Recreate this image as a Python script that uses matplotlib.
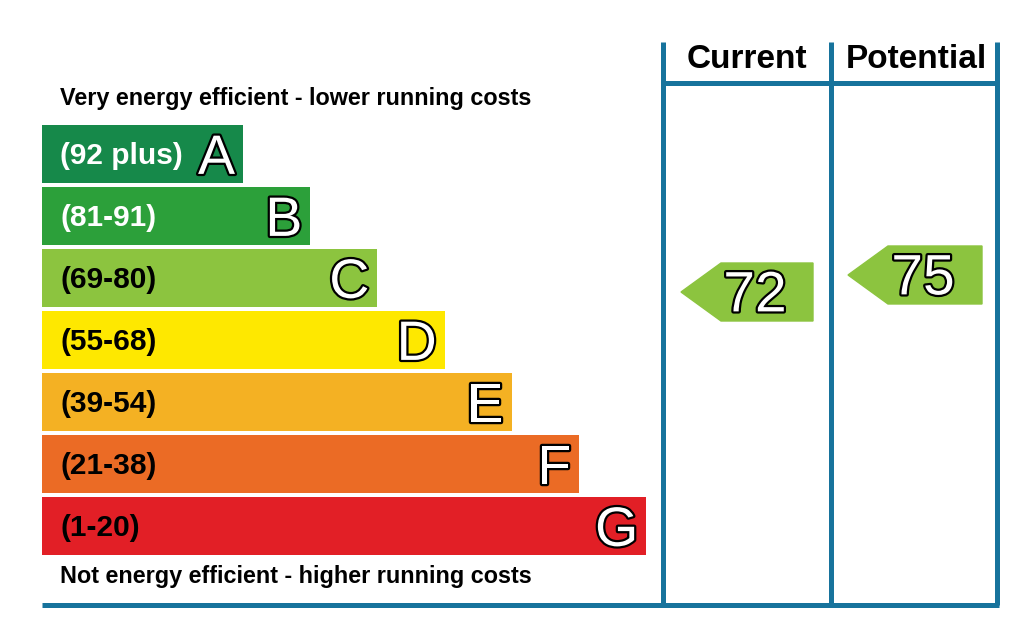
import matplotlib
matplotlib.use("Agg")
import matplotlib.pyplot as plt
from matplotlib.patches import Polygon
import matplotlib.patheffects as pe

# ---- data ----
bands = ["A", "B", "C", "D", "E", "F", "G"]
ranges = ["(92 plus)", "(81-91)", "(69-80)", "(55-68)", "(39-54)", "(21-38)", "(1-20)"]
band_colors = ["#16894a", "#2ca03a", "#8cc43f", "#fee800", "#f4b123", "#eb6b25", "#e21f26"]
range_text_colors = ["white", "white", "black", "black", "black", "black", "black"]
current_value = 72
potential_value = 75
header_labels = ["Current", "Potential"]
top_text = "Very energy efficient - lower running costs"
bottom_text = "Not energy efficient - higher running costs"

W, H = 1024, 641
fig = plt.figure(figsize=(W / 100, H / 100), dpi=100)
ax = fig.add_axes([0, 0, 1, 1])
ax.set_xlim(0, W)
ax.set_ylim(H, 0)
ax.axis("off")

FONT = "Liberation Sans"
line_col = "#17739c"
stroke = [pe.withStroke(linewidth=3.2, foreground="black")]
PX = 100 / 72  # pixels per point
CAP = 0.716    # cap height of Liberation Sans in em

# bars
bar_left = 42
centers = [154 + 62 * i for i in range(len(bands))]
widths = [201 + 67.2 * i for i in range(len(bands))]
ax.barh(centers, widths, left=bar_left, height=58, color=band_colors, zorder=2)
letter_fs = 40
for i, (c, w) in enumerate(zip(centers, widths)):
    ax.text(60, c + 1.5, ranges[i], color=range_text_colors[i], fontsize=21.5,
            fontweight="bold", family=FONT, va="center", ha="left", zorder=3)
    ax.text(bar_left + w - 8, c + letter_fs * PX * CAP / 2, bands[i], color="white",
            fontsize=letter_fs, family=FONT, va="baseline", ha="right", zorder=3,
            path_effects=stroke)

ax.text(60, 98, top_text, fontsize=16.8, fontweight="bold", family=FONT,
        va="center", ha="left")
ax.text(60, 577, bottom_text, fontsize=16.8, fontweight="bold", family=FONT,
        va="center", ha="left")

# frame lines
lw = 3.6
for x in [663, 831, 997]:
    ax.plot([x, x], [42, 605], color=line_col, lw=lw, solid_capstyle="butt", zorder=4)
ax.plot([663, 997], [83, 83], color=line_col, lw=lw, zorder=4)
ax.plot([42, 999], [605, 605], color=line_col, lw=lw, solid_capstyle="butt", zorder=4)

ax.text(747, 59, header_labels[0], fontsize=24, fontweight="bold", family=FONT,
        va="center", ha="center")
ax.text(916, 59, header_labels[1], fontsize=24, fontweight="bold", family=FONT,
        va="center", ha="center")


def value_to_y(v):
    return 292 - (v - 72) * 5.67


def band_color(v):
    limits = [92, 81, 69, 55, 39, 21, 1]
    for lim, col in zip(limits, band_colors):
        if v >= lim:
            return col
    return band_colors[-1]


num_fs = 41


def arrow(tip_x, right_x, v):
    yc = value_to_y(v)
    h = 29
    pts = [(tip_x, yc), (tip_x + 40, yc - h), (right_x, yc - h),
           (right_x, yc + h), (tip_x + 40, yc + h)]
    ax.add_patch(Polygon(pts, closed=True, color=band_color(v), zorder=3))
    ax.text((tip_x + 40 + right_x) / 2 - 12, yc - 1 + num_fs * PX * CAP / 2, str(v),
            color="white", fontsize=num_fs, family=FONT, va="baseline",
            ha="center", zorder=4, path_effects=stroke)


arrow(681, 813, current_value)
arrow(848, 982, potential_value)

fig.savefig("out.png", dpi=100, facecolor="white")
